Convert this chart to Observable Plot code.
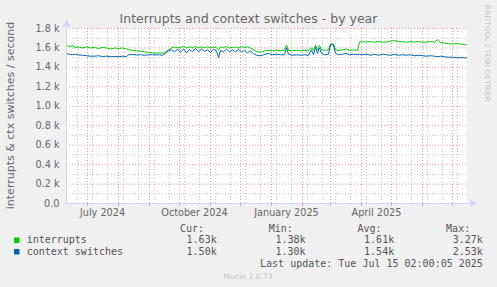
<!DOCTYPE html>
<html><head><meta charset="utf-8">
<script src="https://cdn.jsdelivr.net/npm/d3@7"></script>
<script src="https://cdn.jsdelivr.net/npm/@observablehq/plot@0.6"></script>
<style>
html,body{margin:0;padding:0;background:#f0f0f0;}
#wrap{position:relative;width:497px;height:287px;overflow:hidden;}
#wrap svg{position:absolute;left:0;top:0;}
</style></head><body><div id="wrap"></div>
<script>
const titleText = "Interrupts and context switches - by year";
const yLabelText = "interrupts & ctx switches / second";
const dates = ["2024-06-10","2024-06-13","2024-06-16","2024-06-19","2024-06-22","2024-06-26","2024-06-30",
"2024-07-04","2024-07-08","2024-07-12","2024-07-16","2024-07-20","2024-07-24","2024-07-28",
"2024-08-01","2024-08-05","2024-08-09","2024-08-11","2024-08-15","2024-08-19","2024-08-23","2024-08-27","2024-08-31",
"2024-09-04","2024-09-08","2024-09-11","2024-09-14","2024-09-17","2024-09-20","2024-09-23","2024-09-26","2024-09-29",
"2024-10-02","2024-10-05","2024-10-08","2024-10-11","2024-10-14","2024-10-17","2024-10-20","2024-10-23","2024-10-26","2024-10-29",
"2024-11-01","2024-11-04","2024-11-07","2024-11-09","2024-11-11","2024-11-14","2024-11-17","2024-11-20","2024-11-23","2024-11-26","2024-11-29",
"2024-12-02","2024-12-05","2024-12-08","2024-12-11","2024-12-14","2024-12-17","2024-12-20","2024-12-23","2024-12-26","2024-12-29",
"2025-01-02","2025-01-06","2025-01-10","2025-01-14","2025-01-16","2025-01-18","2025-01-22","2025-01-26","2025-01-30",
"2025-02-03","2025-02-07","2025-02-10","2025-02-12","2025-02-14","2025-02-16","2025-02-18","2025-02-20","2025-02-23","2025-02-27",
"2025-03-01","2025-03-04","2025-03-06","2025-03-09","2025-03-13","2025-03-17","2025-03-20","2025-03-24","2025-03-28","2025-03-30",
"2025-04-02","2025-04-06","2025-04-10","2025-04-14","2025-04-18","2025-04-22","2025-04-26","2025-04-30",
"2025-05-04","2025-05-08","2025-05-12","2025-05-16","2025-05-20","2025-05-24","2025-05-28",
"2025-06-01","2025-06-05","2025-06-09","2025-06-13","2025-06-16","2025-06-19","2025-06-23","2025-06-27",
"2025-07-01","2025-07-05","2025-07-09","2025-07-13","2025-07-15"];
const interrupts = [1625,1615,1620,1605,1610,1600,1610,
1600,1605,1595,1605,1600,1590,1600,
1595,1600,1590,1585,1575,1570,1565,1560,1555,
1550,1545,1550,1545,1560,1580,1600,1610,1600,
1605,1615,1600,1610,1605,1615,1600,1610,1605,1612,
1600,1610,1600,1580,1610,1605,1615,1600,1605,1610,1600,
1612,1605,1610,1600,1580,1565,1555,1560,1570,1575,
1570,1575,1570,1575,1630,1575,1570,1575,1570,
1575,1570,1600,1575,1630,1580,1625,1580,1575,1580,
1640,1640,1580,1575,1580,1590,1575,1580,1575,1660,
1665,1660,1665,1660,1665,1660,1660,1670,
1675,1665,1665,1660,1665,1660,1665,
1660,1660,1665,1660,1685,1655,1650,1645,
1640,1645,1640,1635,1630];
const ctxSwitches = [1540,1535,1532,1535,1528,1525,1520,
1515,1515,1520,1512,1515,1510,1512,
1510,1515,1510,1530,1532,1528,1530,1525,1530,
1530,1528,1530,1525,1545,1570,1580,1560,1585,
1555,1590,1550,1585,1560,1595,1560,1590,1565,1580,
1555,1585,1570,1500,1575,1560,1590,1560,1580,1560,1585,
1560,1575,1550,1570,1540,1525,1520,1525,1535,1545,
1530,1535,1530,1530,1600,1535,1525,1530,1525,
1530,1525,1580,1530,1610,1545,1600,1545,1530,1535,
1635,1630,1545,1530,1535,1545,1530,1535,1530,1535,
1530,1535,1525,1535,1525,1535,1530,1525,
1535,1525,1530,1525,1530,1520,1525,
1520,1515,1520,1515,1510,1515,1510,1505,
1505,1500,1500,1500,1498];
const seriesNames = ["interrupts","context switches"];
const seriesColors = ["#00cc00","#0066b3"];
const statHeaders = ["Cur:","Min:","Avg:","Max:"];
const statInterrupts = ["1.63k","1.38k","1.61k","3.27k"];
const statCtx = ["1.50k","1.30k","1.54k","2.53k"];
const lastUpdate = "Last update: Tue Jul 15 02:00:05 2025";
const muninVersion = "Munin 2.0.73";
const watermark = "RRDTOOL / TOBI OETIKER";
const yTicks = [0,200,400,600,800,1000,1200,1400,1600,1800];
const yTickLabels = ["0.0","0.2 k","0.4 k","0.6 k","0.8 k","1.0 k","1.2 k","1.4 k","1.6 k","1.8 k"];
const xLabelDates = ["2024-07-16","2024-10-16","2025-01-16","2025-04-16"];
const xLabels = ["July 2024","October 2024","January 2025","April 2025"];

const start = new Date("2024-06-10"), end = new Date("2025-07-15");
const data = dates.map((d,i)=>({date:new Date(d), interrupts:interrupts[i], ctx:ctxSwitches[i]}));
const majorX = d3.utcMonth.range(new Date("2024-06-02"), end);
const minorX = [];
d3.utcMonth.range(new Date("2024-06-01"), end).forEach(m=>{
  [5,20].forEach(k=>{const t=d3.utcDay.offset(m,k); if(t>start && t<end) minorX.push(t);});
});
const majorY = yTicks.filter(v=>v>0);
const minorY = d3.range(100,1800,200);
const xl = xLabelDates.map(d=>new Date(d));
const axisCol = "#cfd6f8";

const chart = Plot.plot({
  width:497, height:287, marginLeft:66, marginRight:31, marginTop:28, marginBottom:84,
  style:{background:"transparent", fontFamily:"DejaVu Sans", fontSize:"9.7px", color:"#666", overflow:"visible"},
  x:{type:"utc", domain:[start,end]},
  y:{domain:[0,1800]},
  marks:[
    Plot.frame({fill:"white", stroke:null}),
    Plot.ruleY(minorY,{stroke:"#c8c8c8", strokeDasharray:"1,2"}),
    Plot.ruleX(minorX,{stroke:"#c8c8c8", strokeDasharray:"1,2"}),
    Plot.ruleY(majorY,{stroke:"#ec9a9a", strokeDasharray:"1,2"}),
    Plot.ruleX(majorX,{stroke:"#ec9a9a", strokeDasharray:"1,2"}),
    Plot.ruleX(majorX,{y1:0, y2:-30, stroke:"#ec9a9a"}),
    Plot.line(data,{x:"date", y:"interrupts", stroke:seriesColors[0], strokeWidth:1}),
    Plot.line(data,{x:"date", y:"ctx", stroke:seriesColors[1], strokeWidth:1}),
    Plot.ruleY([0],{x1:start, x2:new Date("2025-07-20"), stroke:axisCol}),
    Plot.ruleX([start],{y1:0, y2:1830, stroke:axisCol}),
    Plot.dot([0],{x:()=>new Date("2025-07-21"), y:0, symbol:"triangle", r:3, rotate:90, fill:axisCol, stroke:null}),
    Plot.dot([0],{x:()=>start, y:1845, symbol:"triangle", r:3, fill:axisCol, stroke:null}),
    Plot.axisY({ticks:yTicks, tickFormat:d=>yTickLabels[yTicks.indexOf(d)], tickSize:0, tickPadding:7, label:null}),
    Plot.axisX({ticks:xl, tickFormat:d=>xLabels[xl.findIndex(t=>+t===+d)], tickSize:0, tickPadding:6, label:null})
  ]
});
document.getElementById("wrap").appendChild(chart);

const ov = d3.select("#wrap").append("svg").attr("width",497).attr("height",287);
ov.append("text").attr("x",248.5).attr("y",23).attr("text-anchor","middle")
  .attr("font-family","DejaVu Sans").attr("font-size",12.5).attr("fill","#666").text(titleText);
ov.append("text").attr("transform","translate(14,115.5) rotate(-90)").attr("text-anchor","middle")
  .attr("font-family","DejaVu Sans").attr("font-size",11).attr("fill","#666").text(yLabelText);
ov.append("text").attr("transform","translate(485,5) rotate(90)").attr("text-anchor","start")
  .attr("font-family","DejaVu Sans").attr("font-size",7.5).attr("fill","#c4c4c4").text(watermark);
const mono = "DejaVu Sans Mono";
const valueEnds = [216.7,305.5,394.2,482.8];
statHeaders.forEach((h,i)=>ov.append("text").attr("x",valueEnds[i]-12.6).attr("y",231.5).attr("text-anchor","end")
  .attr("font-family",mono).attr("font-size",10).attr("fill","#555").text(h));
[statInterrupts, statCtx].forEach((row,r)=>{
  const y = r===0 ? 243 : 254.5;
  ov.append("rect").attr("x",14).attr("y",y-5.5).attr("width",5.5).attr("height",5.5).attr("fill",seriesColors[r]);
  ov.append("text").attr("x",26.7).attr("y",y).attr("font-family",mono).attr("font-size",10).attr("fill","#555").text(seriesNames[r]);
  row.forEach((v,i)=>ov.append("text").attr("x",valueEnds[i]).attr("y",y).attr("text-anchor","end")
    .attr("font-family",mono).attr("font-size",10).attr("fill","#555").text(v));
});
ov.append("text").attr("x",482.8).attr("y",266.7).attr("text-anchor","end")
  .attr("font-family",mono).attr("font-size",10).attr("fill","#555").text(lastUpdate);
ov.append("text").attr("x",248).attr("y",279).attr("text-anchor","middle")
  .attr("font-family","DejaVu Sans").attr("font-size",7.5).attr("fill","#c4c4c4").text(muninVersion);
</script></body></html>
